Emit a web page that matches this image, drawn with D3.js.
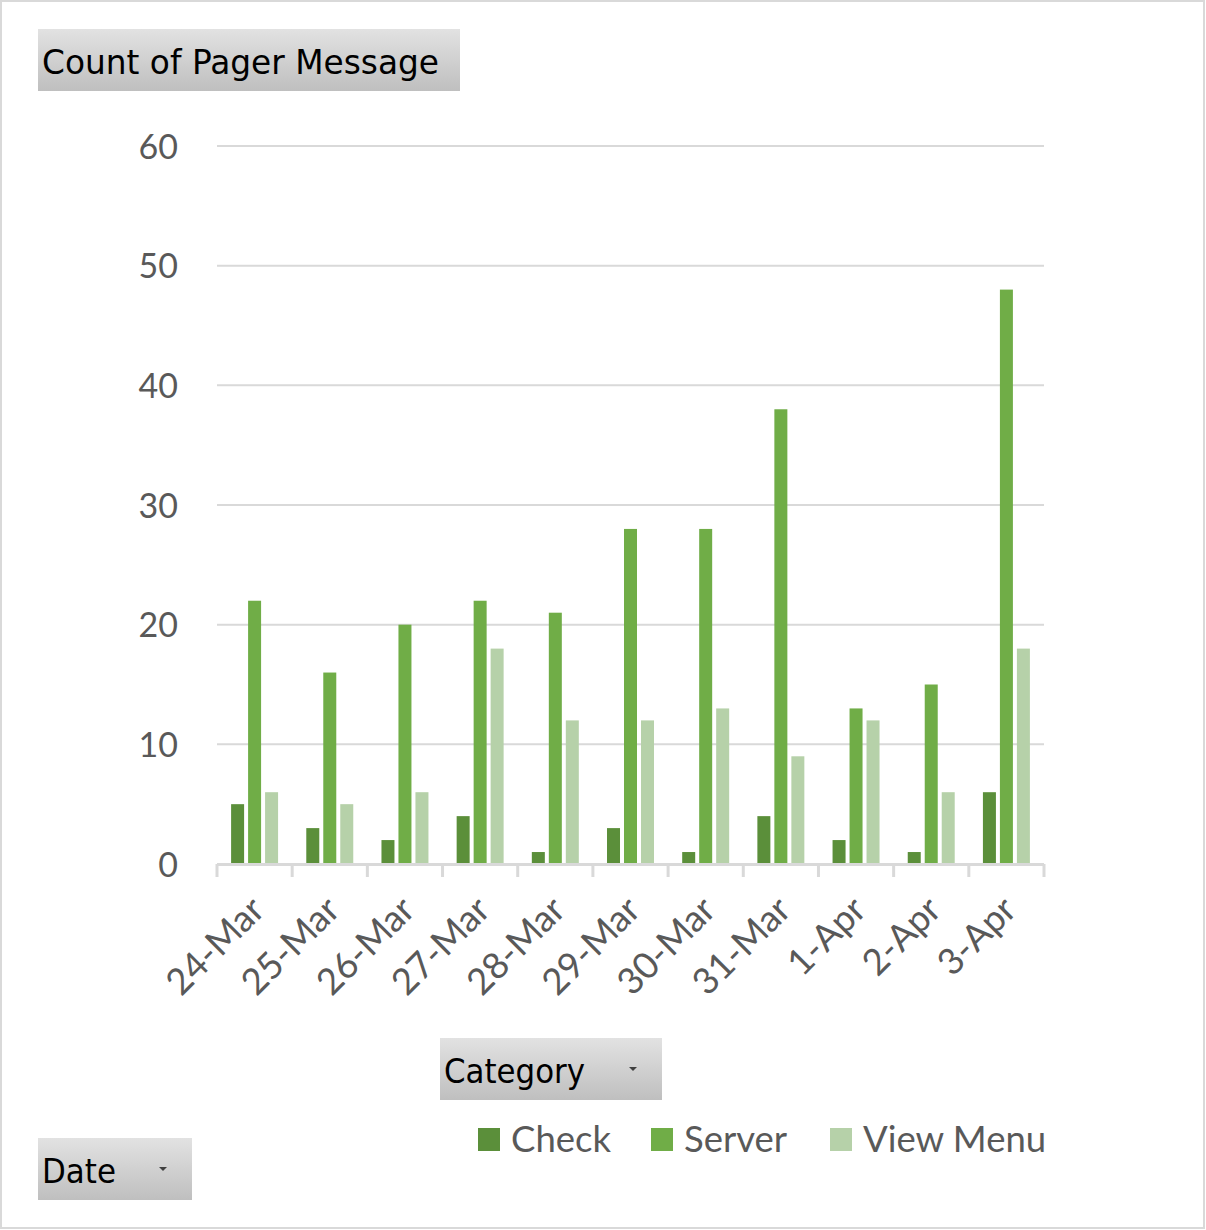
<!DOCTYPE html>
<html><head><meta charset="utf-8">
<script src="https://cdn.jsdelivr.net/npm/d3@7"></script>
<style>body{margin:0;background:#fff}svg{display:block}</style>
</head><body>
<svg id="c" width="1206" height="1230"></svg>
<script>
const categories = ["24-Mar","25-Mar","26-Mar","27-Mar","28-Mar","29-Mar","30-Mar","31-Mar","1-Apr","2-Apr","3-Apr"];
const seriesNames = ["Check","Server","View Menu"];
const checkValues = [5,3,2,4,1,3,1,4,2,1,6];
const serverValues = [22,16,20,22,21,28,28,38,13,15,48];
const viewMenuValues = [6,5,6,18,12,12,13,9,12,6,18];
const yTicks = [0,10,20,30,40,50,60];
const colors = ["#5b8f3a","#70ad47","#b6d1a9"];

const seriesValues = [checkValues, serverValues, viewMenuValues];
const svg = d3.select("#c");
const W = 1206, H = 1230;

svg.append("rect").attr("x",1).attr("y",1).attr("width",W-3).attr("height",H-3)
  .attr("fill","#fff").attr("stroke","#d9d9d9").attr("stroke-width",2);

const defs = svg.append("defs");
const grad = defs.append("linearGradient").attr("id","btn").attr("x1",0).attr("y1",0).attr("x2",0).attr("y2",1);
grad.append("stop").attr("offset","0%").attr("stop-color","#e2e2e2");
grad.append("stop").attr("offset","100%").attr("stop-color","#bfbfbf");

const plot = {left:217, right:1044, top:146, bottom:864};
const x = d3.scaleBand().domain(categories).range([plot.left, plot.right]).paddingInner(0).paddingOuter(0);
const y = d3.scaleLinear().domain([0,60]).range([plot.bottom, plot.top]);
const xs = d3.scaleBand().domain(seriesNames).range([0, x.bandwidth()]).paddingInner(0.235).paddingOuter(0.83);

svg.append("g").selectAll("line").data(yTicks.filter(d=>d>0)).join("line")
  .attr("x1",plot.left).attr("x2",plot.right)
  .attr("y1",d=>y(d)).attr("y2",d=>y(d))
  .attr("stroke","#d9d9d9").attr("stroke-width",2);

const yAxis = d3.axisLeft(y).tickValues(yTicks).tickSize(0).tickPadding(0);
const ya = svg.append("g").attr("transform",`translate(178,0)`).call(yAxis);
ya.select(".domain").remove();
ya.selectAll("text").attr("font-family","Lato, 'Open Sans', sans-serif").attr("font-size",34)
  .attr("fill","#595959").attr("dy","0.36em");

const groups = svg.append("g").selectAll("g").data(seriesNames).join("g")
  .attr("fill",(d,i)=>colors[i]);
groups.selectAll("rect").data((s,i)=>categories.map((c,j)=>({c, s, v: seriesValues[i][j]}))).join("rect")
  .attr("x",d=>x(d.c)+xs(d.s))
  .attr("width",xs.bandwidth())
  .attr("y",d=>y(d.v))
  .attr("height",d=>y(0)-y(d.v));

const xAxis = d3.axisBottom(x).tickSize(0).tickPadding(0);
const xa = svg.append("g").attr("transform",`translate(0,${plot.bottom})`).call(xAxis);
xa.select(".domain").remove();
svg.append("line").attr("x1",plot.left).attr("x2",plot.right).attr("y1",plot.bottom+0.5).attr("y2",plot.bottom+0.5)
  .attr("stroke","#d9d9d9").attr("stroke-width",3);
const edges = categories.map(c=>x(c)).concat([x(categories[categories.length-1])+x.bandwidth()]);
svg.append("g").selectAll("line").data(edges).join("line")
  .attr("x1",d=>d).attr("x2",d=>d).attr("y1",plot.bottom).attr("y2",plot.bottom+13)
  .attr("stroke","#d9d9d9").attr("stroke-width",3);
xa.selectAll(".tick text")
  .attr("font-family","Lato, 'Open Sans', sans-serif").attr("font-size",36.5).attr("fill","#595959")
  .attr("text-anchor","end")
  .attr("dy",0)
  .attr("transform","translate(12,48) rotate(-45)")
  .attr("y",0).attr("x",0);

const legX = [478, 651, 830];
const leg = svg.append("g").selectAll("g").data(seriesNames).join("g")
  .attr("transform",(d,i)=>`translate(${legX[i]},1128)`);
leg.append("rect").attr("width",22).attr("height",23).attr("fill",(d,i)=>colors[i]);
leg.append("text").attr("x",33).attr("y",24).text(d=>d)
  .attr("font-family","Lato, 'Open Sans', sans-serif").attr("font-size",36.5).attr("fill","#595959");

function button(bx, by, bw, bh, label, arrow, tl){
  const g = svg.append("g").attr("transform",`translate(${bx},${by})`);
  g.append("rect").attr("width",bw).attr("height",bh).attr("fill","url(#btn)");
  g.append("text").attr("x",4).attr("y",bh*0.72).text(label)
    .attr("font-family","'DejaVu Sans', Verdana, sans-serif").attr("font-size",34).attr("fill","#000")
    .attr("textLength",tl).attr("lengthAdjust","spacingAndGlyphs");
  if(arrow){
    g.append("path").attr("d",`M${bw-33},${bh/2-2} l8,0 l-4,4 z`).attr("fill","#404040");
  }
}
button(38,29,422,62,"Count of Pager Message",false,397);
button(440,1038,222,62,"Category",true,141);
button(38,1138,154,62,"Date",true,74);
</script>
</body></html>
